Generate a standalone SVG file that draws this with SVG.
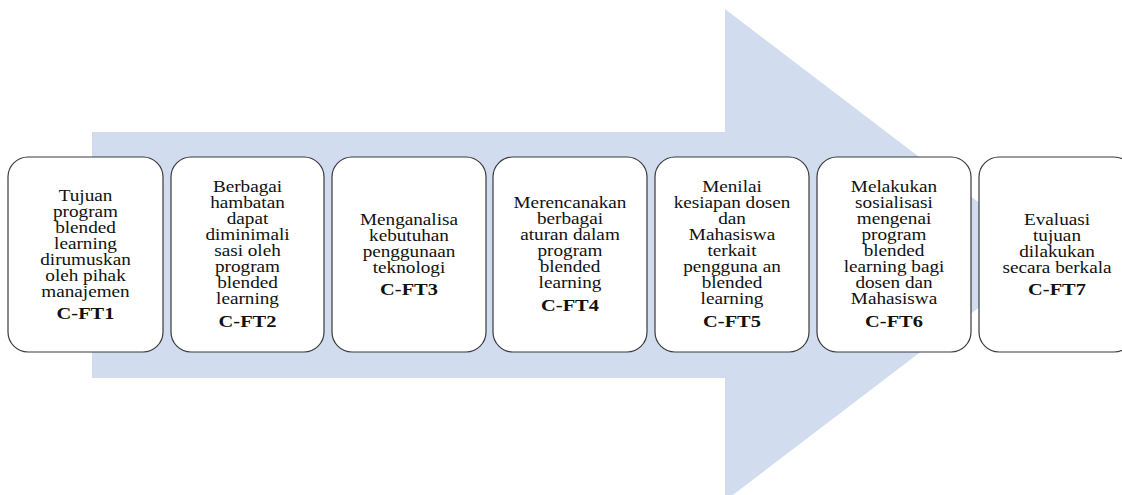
<svg xmlns="http://www.w3.org/2000/svg" width="1122" height="495" viewBox="0 0 1122 495">
  <style>
    .box { fill: #ffffff; stroke: #3a3a3a; stroke-width: 1.2; }
    .txt { font-family: "Liberation Serif", "Times New Roman", serif; font-size: 16px; fill: #111111; text-anchor: middle; }
    .code { font-family: "Liberation Serif", "Times New Roman", serif; font-size: 17px; font-weight: bold; fill: #111111; text-anchor: middle; }
  </style>

  <!-- background process arrow -->
  <g id="connectors">
    <path d="M92 132 L725 132 L725 9 L1048 255 L725 501 L725 378 L92 378 Z" fill="#d1ddee"/>
  </g>

  <g id="node-cft1">
    <rect class="box" x="8" y="157" width="155" height="195" rx="20" ry="20"/>
    <g transform="translate(85.5 0) scale(1.2 1)">
      <text class="txt" x="0" y="201">Tujuan</text>
      <text class="txt" x="0" y="217">program</text>
      <text class="txt" x="0" y="233">blended</text>
      <text class="txt" x="0" y="249">learning</text>
      <text class="txt" x="0" y="265">dirumuskan</text>
      <text class="txt" x="0" y="281">oleh pihak</text>
      <text class="txt" x="0" y="297">manajemen</text>
      <text class="code" x="0" y="319">C-FT1</text>
    </g>
  </g>

  <g id="node-cft2">
    <rect class="box" x="171" y="157" width="153" height="195" rx="20" ry="20"/>
    <g transform="translate(247.5 0) scale(1.2 1)">
      <text class="txt" x="0" y="192">Berbagai</text>
      <text class="txt" x="0" y="208">hambatan</text>
      <text class="txt" x="0" y="224">dapat</text>
      <text class="txt" x="0" y="240">diminimali</text>
      <text class="txt" x="0" y="256">sasi oleh</text>
      <text class="txt" x="0" y="272">program</text>
      <text class="txt" x="0" y="288">blended</text>
      <text class="txt" x="0" y="304">learning</text>
      <text class="code" x="0" y="327">C-FT2</text>
    </g>
  </g>

  <g id="node-cft3">
    <rect class="box" x="332" y="157" width="154" height="195" rx="20" ry="20"/>
    <g transform="translate(409 0) scale(1.2 1)">
      <text class="txt" x="0" y="225">Menganalisa</text>
      <text class="txt" x="0" y="241">kebutuhan</text>
      <text class="txt" x="0" y="257">penggunaan</text>
      <text class="txt" x="0" y="273">teknologi</text>
      <text class="code" x="0" y="295">C-FT3</text>
    </g>
  </g>

  <g id="node-cft4">
    <rect class="box" x="493" y="157" width="154" height="195" rx="20" ry="20"/>
    <g transform="translate(570 0) scale(1.2 1)">
      <text class="txt" x="0" y="208">Merencanakan</text>
      <text class="txt" x="0" y="224">berbagai</text>
      <text class="txt" x="0" y="240">aturan dalam</text>
      <text class="txt" x="0" y="256">program</text>
      <text class="txt" x="0" y="272">blended</text>
      <text class="txt" x="0" y="288">learning</text>
      <text class="code" x="0" y="311">C-FT4</text>
    </g>
  </g>

  <g id="node-cft5">
    <rect class="box" x="655" y="157" width="154" height="195" rx="20" ry="20"/>
    <g transform="translate(732 0) scale(1.2 1)">
      <text class="txt" x="0" y="192">Menilai</text>
      <text class="txt" x="0" y="208">kesiapan dosen</text>
      <text class="txt" x="0" y="224">dan</text>
      <text class="txt" x="0" y="240">Mahasiswa</text>
      <text class="txt" x="0" y="256">terkait</text>
      <text class="txt" x="0" y="272">pengguna an</text>
      <text class="txt" x="0" y="288">blended</text>
      <text class="txt" x="0" y="304">learning</text>
      <text class="code" x="0" y="327">C-FT5</text>
    </g>
  </g>

  <g id="node-cft6">
    <rect class="box" x="817" y="157" width="154" height="195" rx="20" ry="20"/>
    <g transform="translate(894 0) scale(1.2 1)">
      <text class="txt" x="0" y="192">Melakukan</text>
      <text class="txt" x="0" y="208">sosialisasi</text>
      <text class="txt" x="0" y="224">mengenai</text>
      <text class="txt" x="0" y="240">program</text>
      <text class="txt" x="0" y="256">blended</text>
      <text class="txt" x="0" y="272">learning bagi</text>
      <text class="txt" x="0" y="288">dosen dan</text>
      <text class="txt" x="0" y="304">Mahasiswa</text>
      <text class="code" x="0" y="327">C-FT6</text>
    </g>
  </g>

  <g id="node-cft7">
    <rect class="box" x="979" y="157" width="155" height="195" rx="20" ry="20"/>
    <g transform="translate(1057 0) scale(1.2 1)">
      <text class="txt" x="0" y="225">Evaluasi</text>
      <text class="txt" x="0" y="241">tujuan</text>
      <text class="txt" x="0" y="257">dilakukan</text>
      <text class="txt" x="0" y="273">secara berkala</text>
      <text class="code" x="0" y="295">C-FT7</text>
    </g>
  </g>
</svg>
